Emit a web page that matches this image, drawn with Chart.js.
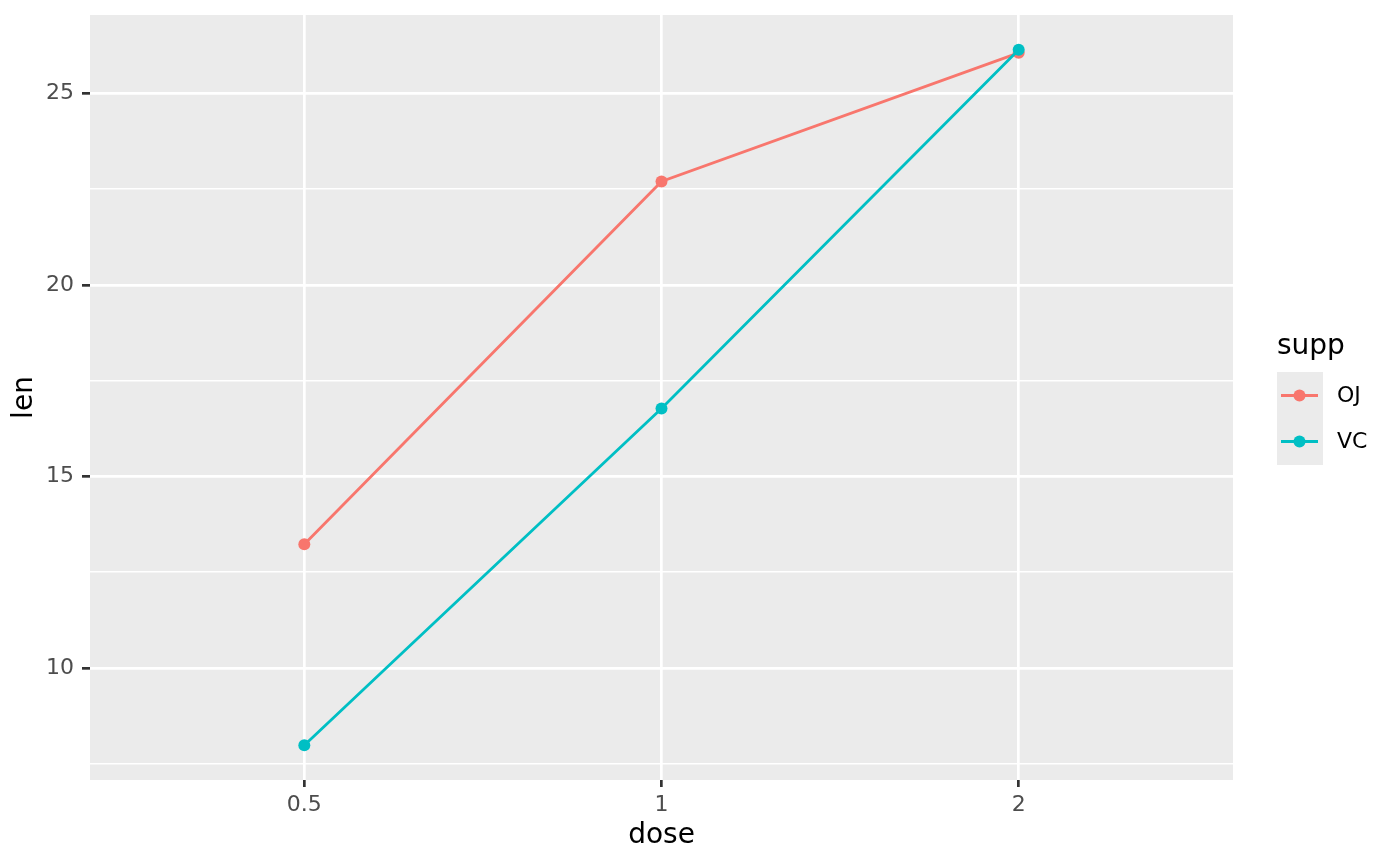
<!DOCTYPE html>
<html>
<head>
<meta charset="utf-8">
<script src="https://cdn.jsdelivr.net/npm/chart.js@4/dist/chart.umd.min.js"></script>
<style>
  html, body { margin: 0; padding: 0; background: #ffffff; }
  #box { width: 1400px; height: 866px; position: relative; }
</style>
</head>
<body>
<div id="box"><canvas id="grafico"></canvas></div>
<script>
// dados (ToothGrowth, media de len por dose e supp)
const doses = ['0.5', '1', '2'];
const series = ['OJ', 'VC'];
const len_oj = [13.23, 22.70, 26.06];
const len_vc = [7.98, 16.77, 26.14];
const yMajor = [10, 15, 20, 25];
const yMinor = [7.5, 12.5, 17.5, 22.5];
const cores = ['#F8766D', '#00BFC4'];

const fonte = 'DejaVu Sans';

function pontos(vetor) {
    return vetor.map((v, i) => ({ x: i + 1, y: v }));
}

// fundo cinza do painel
const painel = {
    id: 'painel',
    beforeDraw(chart) {
        const a = chart.chartArea;
        const ctx = chart.ctx;
        ctx.save();
        ctx.fillStyle = '#EBEBEB';
        ctx.fillRect(a.left, a.top, a.right - a.left, a.bottom - a.top);
        ctx.restore();
    }
};

// legenda no estilo ggplot
const legenda = {
    id: 'legenda',
    afterDraw(chart) {
        const ctx = chart.ctx;
        ctx.save();
        ctx.fillStyle = '#000000';
        ctx.font = '28px "' + fonte + '"';
        ctx.textBaseline = 'alphabetic';
        ctx.textAlign = 'left';
        ctx.fillText('supp', 1277, 354);

        ctx.fillStyle = '#EBEBEB';
        ctx.fillRect(1277, 372, 46, 93);

        for (let i = 0; i < series.length; i++) {
            const cy = 395.5 + i * 46;
            ctx.strokeStyle = cores[i];
            ctx.lineWidth = 2.8;
            ctx.beginPath();
            ctx.moveTo(1281, cy);
            ctx.lineTo(1318, cy);
            ctx.stroke();
            ctx.fillStyle = cores[i];
            ctx.beginPath();
            ctx.arc(1299.5, cy, 6, 0, Math.PI * 2);
            ctx.fill();
            ctx.fillStyle = '#000000';
            ctx.font = '22px "' + fonte + '"';
            ctx.textBaseline = 'middle';
            ctx.fillText(series[i], 1337, cy + 1);
        }
        ctx.restore();
    }
};

const data_linhas = {
    datasets: [{
        label: series[0],
        data: pontos(len_oj),
        order: 1,
        borderColor: cores[0],
        backgroundColor: cores[0],
        pointBackgroundColor: cores[0],
        borderWidth: 2.8,
        pointRadius: 6,
        pointBorderWidth: 0,
        tension: 0
    }, {
        label: series[1],
        data: pontos(len_vc),
        order: 0,
        borderColor: cores[1],
        backgroundColor: cores[1],
        pointBackgroundColor: cores[1],
        borderWidth: 2.8,
        pointRadius: 6,
        pointBorderWidth: 0,
        tension: 0
    }]
};

const config_linhas = {
    type: 'line',
    data: data_linhas,
    plugins: [painel, legenda],
    options: {
        responsive: true,
        maintainAspectRatio: false,
        animation: false,
        layout: { padding: { top: 15, right: 167, left: 0, bottom: 0 } },
        plugins: {
            legend: { display: false },
            tooltip: { enabled: false }
        },
        scales: {
            x: {
                type: 'linear',
                min: 0.4,
                max: 3.6,
                afterBuildTicks(scale) {
                    scale.ticks = doses.map((d, i) => ({ value: i + 1 }));
                },
                afterFit(scale) {
                    scale.height = 86;
                    scale.paddingLeft = 0;
                    scale.paddingRight = 0;
                },
                border: { display: false },
                grid: {
                    color: '#FFFFFF',
                    lineWidth: 2.7,
                    drawTicks: true,
                    tickLength: 7,
                    tickColor: '#333333',
                    tickWidth: 2.7
                },
                ticks: {
                    autoSkip: false,
                    maxRotation: 0,
                    padding: 5,
                    color: '#4D4D4D',
                    font: { size: 22, family: fonte },
                    callback: (v) => doses[Math.round(v) - 1]
                },
                title: {
                    display: true,
                    text: 'dose',
                    color: '#000000',
                    font: { size: 28, family: fonte },
                    padding: { top: 0, bottom: 13 }
                }
            },
            y: {
                type: 'linear',
                min: 7.072,
                max: 27.048,
                afterBuildTicks(scale) {
                    scale.ticks = yMinor.concat(yMajor).sort((a, b) => a - b).map(v => ({ value: v }));
                },
                afterFit(scale) {
                    scale.width = 90;
                    scale.paddingTop = 0;
                    scale.paddingBottom = 0;
                },
                border: { display: false },
                grid: {
                    color: '#FFFFFF',
                    lineWidth: (c) => yMajor.includes(c.tick && c.tick.value) ? 2.7 : 1.4,
                    drawTicks: true,
                    tickLength: 8,
                    tickColor: (c) => yMajor.includes(c.tick && c.tick.value) ? '#333333' : 'rgba(0,0,0,0)',
                    tickWidth: 2.7
                },
                ticks: {
                    autoSkip: false,
                    padding: 8,
                    color: '#4D4D4D',
                    font: { size: 22, family: fonte },
                    callback: (v) => yMajor.includes(v) ? String(v) : ''
                },
                title: {
                    display: true,
                    text: 'len',
                    color: '#000000',
                    font: { size: 28, family: fonte },
                    padding: { top: 8, bottom: 0 }
                }
            }
        }
    }
};

const grafico_linhas = new Chart(document.getElementById('grafico'), config_linhas);
</script>
</body>
</html>
